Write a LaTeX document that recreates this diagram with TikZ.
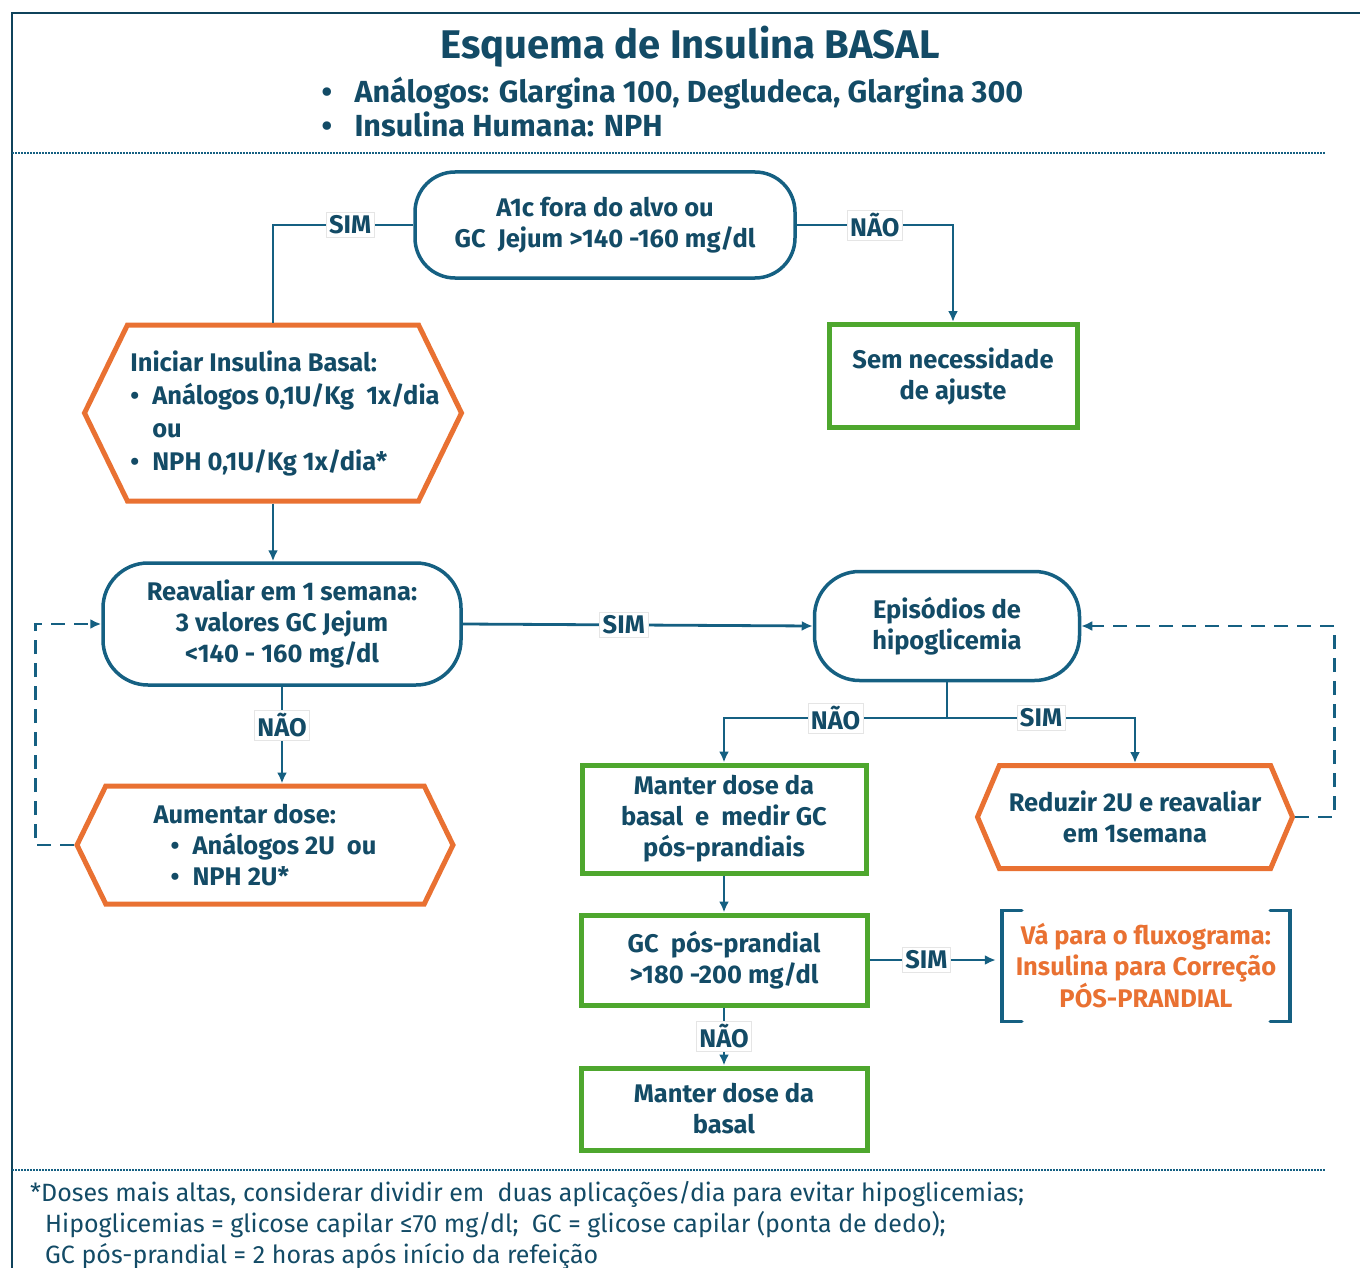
\documentclass[tikz,border=0pt]{standalone}
\usepackage{fontspec}
\setmainfont{Fira Sans}
\usetikzlibrary{arrows.meta,shapes.symbols}
\definecolor{azul}{HTML}{156082}
\definecolor{tinta}{HTML}{134B66}
\definecolor{laranja}{HTML}{E97132}
\definecolor{verde}{HTML}{4EA72E}
\newcommand{\bul}{\makebox[22pt][l]{\textbullet}}

\begin{document}
\begin{tikzpicture}[x=1pt, y=-1pt,
  every node/.style={font=\fontsize{25.5}{31}\selectfont\bfseries, text=tinta},
  decisao/.style={draw=azul, line width=3.5pt, rounded corners=40pt, fill=white, align=center},
  acao/.style={draw=verde, line width=5pt, align=center},
  hexa/.style={draw=laranja, line width=5pt, signal, signal to=west and east, signal pointer angle=128, align=left},
  lbl/.style={fill=white, draw=gray!20, line width=0.6pt, inner sep=3pt},
  conn/.style={draw=azul, line width=2.8pt},
  seta/.style={conn, -{Latex[length=11pt,width=10pt]}},
  volta/.style={seta, dash pattern=on 14pt off 9pt}]
\useasboundingbox (0,0) rectangle (1360,1268);
% moldura
\draw[azul!70!black, line width=2.5pt] (12,1268) -- (12,13) -- (1360,13);
\draw[azul, line width=2pt, dash pattern=on 1.5pt off 1.5pt] (12,153) -- (1325,153);
\draw[azul, line width=2pt, dash pattern=on 1.5pt off 1.5pt] (12,1170) -- (1325,1170);
% titulo
\node[font=\fontsize{40}{44}\selectfont\bfseries] (titulo) at (690,47) {Esquema de Insulina BASAL};
\node[font=\fontsize{30.5}{34}\selectfont\bfseries, align=left, anchor=west] (tipos) at (318,107)
  {\makebox[33pt][l]{\textbullet}Análogos: Glargina 100, Degludeca, Glargina 300\\
   \makebox[33pt][l]{\textbullet}Insulina Humana: NPH};
% caixas
\node[decisao, minimum width=380pt, minimum height=106pt] (a1c) at (605,225) {A1c fora do alvo ou\\GC\ \ Jejum >140 -160 mg/dl};
\node[hexa, font=\fontsize{25.5}{33}\selectfont\bfseries, inner xsep=-22pt, minimum width=377pt, minimum height=176pt] (iniciar) at (273,413)
  {\hspace*{24pt}Iniciar Insulina Basal:\\\hspace*{24pt}\bul Análogos 0,1U/Kg\ \ 1x/dia\\\hspace*{46pt}ou\\\hspace*{24pt}\bul NPH 0,1U/Kg 1x/dia*};
\node[acao, minimum width=248pt, minimum height=103pt] (sem) at (953,376) {Sem necessidade\\de ajuste};
\node[decisao, rounded corners=45pt, minimum width=358pt, minimum height=122pt] (reavaliar) at (282,624)
  {Reavaliar em 1 semana:\\3 valores GC Jejum\\<140 - 160 mg/dl};
\node[decisao, rounded corners=45pt, minimum width=265pt, minimum height=109pt] (epi) at (947,626) {Episódios de\\hipoglicemia};
\node[hexa, minimum width=376pt, minimum height=118pt] (aumentar) at (265,845)
  {Aumentar dose:\\\hspace*{17pt}\bul Análogos 2U\ \ ou\\\hspace*{17pt}\bul NPH 2U*};
\node[acao, minimum width=284pt, minimum height=108pt] (manter) at (724,819) {Manter dose da\\basal\ \ e\ \ medir GC\\pós-prandiais};
\node[hexa, align=center, signal pointer angle=134, minimum width=315pt, minimum height=103pt] (reduzir) at (1135,817)
  {Reduzir 2U e reavaliar\\em 1semana};
\node[acao, minimum width=286pt, minimum height=90pt] (gc) at (724,960) {GC\ \ pós-prandial\\>180 -200 mg/dl};
\node[text=laranja, align=center, minimum width=288pt, minimum height=111pt] (fluxo) at (1146,966)
  {Vá para o fluxograma:\\Insulina para Correção\\PÓS-PRANDIAL};
\node[acao, minimum width=286pt, minimum height=82pt] (basal) at (724,1109) {Manter dose da\\basal};
% colchetes
\draw[azul, line width=3.5pt, line cap=round] ([xshift=20pt]fluxo.north west) -- (fluxo.north west) -- (fluxo.south west) -- ([xshift=20pt]fluxo.south west);
\draw[azul, line width=3.5pt, line cap=round] ([xshift=-20pt]fluxo.north east) -- (fluxo.north east) -- (fluxo.south east) -- ([xshift=-20pt]fluxo.south east);
% ligacoes
\draw[conn] (a1c.west) -- node[lbl, pos=0.45] {SIM} (a1c.west -| iniciar.north) -- (iniciar.north);
\draw[seta] (a1c.east) -- node[lbl] {NÃO} (a1c.east -| sem.north) -- (sem.north);
\draw[seta] (iniciar.south) -- (iniciar.south |- reavaliar.north);
\draw[seta] (reavaliar.east) -- node[lbl, pos=0.46] {SIM} (epi.west);
\draw[seta] (reavaliar.south) -- node[lbl, pos=0.4] {NÃO} (reavaliar.south |- aumentar.north);
\coordinate (split) at (947,718);
\draw[conn] (epi.south) -- (split);
\draw[seta] (split) -- node[lbl] {NÃO} (split -| manter.north) -- (manter.north);
\draw[seta] (split) -- node[lbl] {SIM} (split -| reduzir.north) -- (reduzir.north);
\draw[seta] (manter.south) -- (gc.north);
\draw[seta, shorten >=6pt] (gc.east) -- node[lbl, pos=0.43] {SIM} (gc.east -| fluxo.west);
\draw[seta] (gc.south) -- node[lbl] {NÃO} (basal.north);
% retornos
\draw[volta] (aumentar.west) -- ++(-39,0) |- (reavaliar.west);
\draw[volta] (reduzir.east) -- ++(39,0) |- (epi.east);
% nota
\node[font=\fontsize{25}{31}\selectfont, align=left, anchor=base west, inner sep=0pt] (nota) at (30,1263)
  {*Doses mais altas, considerar dividir em\ \ duas aplicações/dia para evitar hipoglicemias;\\
   \hspace*{15pt}Hipoglicemias = glicose capilar ≤70 mg/dl;\ \ GC = glicose capilar (ponta de dedo);\\
   \hspace*{15pt}GC pós-prandial = 2 horas após início da refeição};
\end{tikzpicture}
\end{document}
